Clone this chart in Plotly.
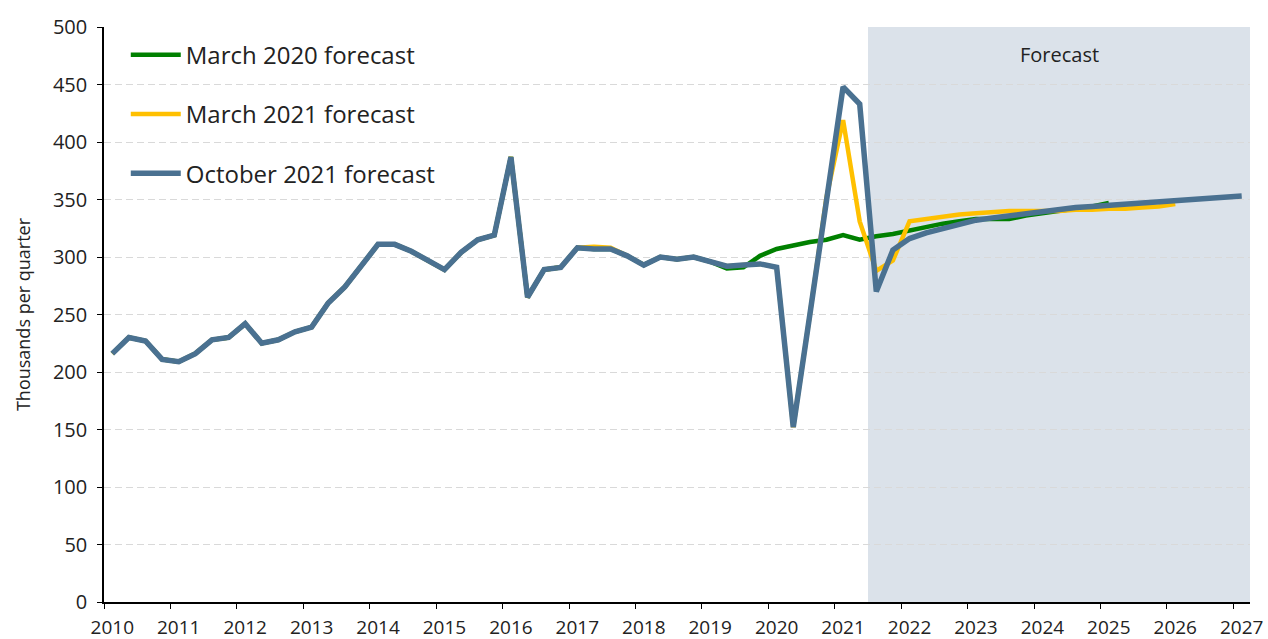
import plotly.graph_objects as go

# Quarterly periods 2010 Q1 .. 2027 Q1
years = list(range(2010, 2028))
quarters = [f"{y} Q{q}" for y in years for q in (1, 2, 3, 4)][:69]

oct2021 = [216, 230, 227, 211, 209, 216, 228, 230, 242, 225, 228, 235,
           239, 260, 274, 293, 311, 311, 305, 297, 289, 304, 315, 319,
           387, 265, 289, 291, 308, 307, 307, 301, 293, 300, 298, 300,
           296, 292, 293, 294, 291, 152, 250, 350, 448, 433, 270, 306,
           316, 321, 325, 329, 332, 334, 336, 338, 340, 342, 343, 344,
           345, 346, 347, 348, 349, 350, 350, 352, 353]

mar2021 = [216, 230, 227, 211, 209, 216, 228, 230, 242, 225, 228, 235,
           239, 260, 274, 293, 311, 311, 305, 297, 289, 304, 315, 319,
           387, 265, 289, 291, 308, 309, 308, 301, 293, 300, 298, 300,
           296, 292, 293, 294, 291, 152, 250, 352, 419, 331, 288, 297,
           331, 333, 335, 337, 338, 339, 340, 340, 340, 340, 341, 341,
           342, 342, 343, 344, 346]

mar2020 = [216, 230, 227, 211, 209, 216, 228, 230, 242, 225, 228, 235,
           239, 260, 274, 293, 311, 311, 305, 297, 289, 304, 315, 319,
           387, 265, 289, 291, 308, 307, 307, 301, 293, 300, 298, 300,
           296, 290, 291, 301, 307, 310, 313, 315, 319, 315, 318, 320,
           323, 326, 329, 331, 333, 333, 333, 336, 338, 340, 342, 344,
           347]

forecast_start = "2021 Q3"
y_ticks = list(range(0, 501, 50))


def qpos(label):
    y, q = label.split(" Q")
    return int(y) + (int(q) - 0.5) / 4


xs = [qpos(q) for q in quarters]
x_lo = qpos(quarters[0]) - 0.125
x_hi = qpos(quarters[-1]) + 0.125

fig = go.Figure()

fig.add_shape(type="rect", xref="x", yref="y",
              x0=qpos(forecast_start) - 0.125, x1=x_hi,
              y0=0, y1=500, fillcolor="#dbe2ea", line_width=0, layer="below")
fig.add_annotation(x=(qpos(forecast_start) - 0.125 + x_hi) / 2,
                   y=476, xref="x", yref="y", text="Forecast", showarrow=False,
                   font=dict(size=20, color="#222222"))

series = [("March 2020 forecast", mar2020, "#008000", 4.5),
          ("March 2021 forecast", mar2021, "#ffc000", 4.5),
          ("October 2021 forecast", oct2021, "#4a7191", 5.5)]
for i, (name, vals, col, w) in enumerate(series):
    fig.add_trace(go.Scatter(x=xs[:len(vals)], y=vals, mode="lines", name=name,
                             legendgroup=f"g{i}",
                             line=dict(color=col, width=w)))

fig.update_layout(
    width=1268, height=639,
    margin=dict(l=104, r=18, t=27, b=37, autoexpand=False),
    paper_bgcolor="white", plot_bgcolor="white",
    font=dict(family="Open Sans", color="#222222"),
    showlegend=True,
    legend=dict(x=0.019, y=0.99, xanchor="left", yanchor="top",
                bgcolor="rgba(0,0,0,0)", tracegroupgap=25,
                font=dict(size=24, color="#222222"), itemwidth=50),
    xaxis=dict(range=[x_lo, x_hi], tickmode="array",
               tickvals=[y + 0.125 for y in years],
               ticktext=[str(y) for y in years], showgrid=False,
               showline=True, linecolor="black", linewidth=2,
               ticks="", ticklabelstandoff=7,
               minor=dict(tickmode="array", tickvals=years, ticks="outside",
                          ticklen=5, tickcolor="black", tickwidth=1, showgrid=False),
               tickfont=dict(size=19), zeroline=False),
    yaxis=dict(range=[0, 500], tickmode="array", tickvals=y_ticks,
               showgrid=True, gridcolor="#d9d9d9", griddash="7px,4px", gridwidth=1,
               showline=True, linecolor="black", linewidth=1.5,
               ticks="outside", ticklen=5, tickcolor="black",
               ticklabelstandoff=6,
               tickfont=dict(size=20), zeroline=False,
               title=dict(text="Thousands per quarter", font=dict(size=18), standoff=18)),
)

fig.write_html("out.html", config={"displayModeBar": False},
               post_script="document.body.style.margin='0';")
